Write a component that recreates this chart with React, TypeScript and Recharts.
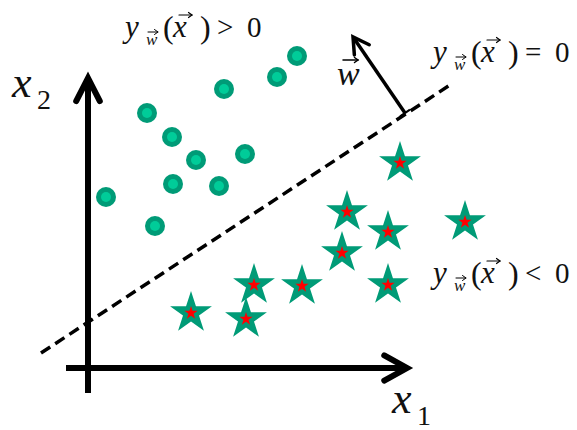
import { ScatterChart, Scatter, XAxis, YAxis, ReferenceLine, ReferenceDot } from "recharts";

// feature space: x1 to the right, x2 upward, origin where the two axes cross
const positivePoints = [
  { x1: 209, x2: 312 },
  { x1: 189, x2: 291 },
  { x1: 136, x2: 279 },
  { x1: 59, x2: 255 },
  { x1: 84, x2: 231 },
  { x1: 157, x2: 214 },
  { x1: 108, x2: 208 },
  { x1: 85, x2: 184 },
  { x1: 131, x2: 182 },
  { x1: 18, x2: 171 },
  { x1: 67, x2: 142 },
];

const negativePoints = [
  { x1: 312, x2: 205 },
  { x1: 259, x2: 156 },
  { x1: 377, x2: 146 },
  { x1: 300, x2: 136 },
  { x1: 254, x2: 115 },
  { x1: 166, x2: 83 },
  { x1: 214, x2: 82 },
  { x1: 300, x2: 83 },
  { x1: 103, x2: 55 },
  { x1: 158, x2: 49 },
];

// decision boundary y_w(x) = 0 and its normal vector w
const boundary = [
  { x: -47, y: 15 },
  { x: 362, y: 283 },
];
const normal = [
  { x: 317, y: 255 },
  { x: 265, y: 331 },
];

const axisX1 = [
  { x: -22, y: 0 },
  { x: 319, y: 0 },
];
const axisX2 = [
  { x: 0, y: -25 },
  { x: 0, y: 290 },
];

const W = 577;
const H = 430;
const GREEN = "#009B77";
const SERIF_FAMILY =
  "'Liberation Serif', 'Times New Roman', Times, 'DejaVu Serif', serif";

const serif = (size: number, italic = false) => ({
  fontFamily: SERIF_FAMILY,
  fontSize: size,
  fontStyle: italic ? "italic" : "normal",
});

function headPoints(x1: number, y1: number, x2: number, y2: number, len: number, deg: number) {
  const a = Math.atan2(y2 - y1, x2 - x1);
  const h = (deg * Math.PI) / 180;
  const l = [x2 - len * Math.cos(a - h), y2 - len * Math.sin(a - h)];
  const r = [x2 - len * Math.cos(a + h), y2 - len * Math.sin(a + h)];
  return `${l[0]},${l[1]} ${x2},${y2} ${r[0]},${r[1]}`;
}

function arrowShape(width: number, len: number, deg: number, baseTick = 0) {
  return (props: any) => {
    const { x1, y1, x2, y2 } = props;
    const a = Math.atan2(y2 - y1, x2 - x1);
    const ex = x2 - Math.cos(a) * width * 0.8;
    const ey = y2 - Math.sin(a) * width * 0.8;
    const px = -Math.sin(a) * baseTick;
    const py = Math.cos(a) * baseTick;
    return (
      <g>
        <line x1={x1} y1={y1} x2={ex} y2={ey} stroke="#000" strokeWidth={width} />
        <polyline
          points={headPoints(x1, y1, x2, y2, len, deg)}
          fill="none"
          stroke="#000"
          strokeWidth={width}
          strokeLinecap="round"
          strokeLinejoin="miter"
        />
        {baseTick > 0 && (
          <line x1={x1 - px} y1={y1 - py} x2={x1 + px} y2={y1 + py} stroke="#000" strokeWidth={2} />
        )}
      </g>
    );
  };
}

// small vector arrow placed over a letter
function VecArrow({ x, y, len, w = 1.2 }: { x: number; y: number; len: number; w?: number }) {
  return (
    <g stroke="#000" strokeWidth={w} fill="none" strokeLinecap="round">
      <line x1={x} y1={y} x2={x + len} y2={y} />
      <polyline points={`${x + len - 3.5},${y - 2.5} ${x + len},${y} ${x + len - 3.5},${y + 2.5}`} />
    </g>
  );
}

function decisionLabel(op: string) {
  return (props: any) => {
    const { cx, cy } = props;
    return (
      <g fill="#111">
        <text x={cx} y={cy} style={serif(31, true)}>y</text>
        <text x={cx + 21} y={cy + 8} style={serif(17, true)}>w</text>
        <VecArrow x={cx + 23} y={cy - 5} len={10} w={1} />
        <text x={cx + 38} y={cy + 1} style={serif(32)}>(</text>
        <text x={cx + 48} y={cy} style={serif(31, true)}>x</text>
        <VecArrow x={cx + 54} y={cy - 22} len={13} />
        <text x={cx + 75} y={cy + 1} style={serif(32)}>)</text>
        <text x={cx + 92} y={cy} style={serif(29)}>{op}</text>
        <text x={cx + 122} y={cy} style={serif(29)}>0</text>
      </g>
    );
  };
}

function axisLabel(sub: string) {
  return (props: any) => {
    const { cx, cy } = props;
    return (
      <g fill="#111">
        <text x={cx} y={cy} style={serif(44, true)}>x</text>
        <text x={cx + 25} y={cy + 12} style={serif(28)}>{sub}</text>
      </g>
    );
  };
}

const wLabel = (props: any) => {
  const { cx, cy } = props;
  return (
    <g fill="#111">
      <text x={cx} y={cy} style={serif(34, true)}>w</text>
      <VecArrow x={cx + 6} y={cy - 25} len={15} w={1.5} />
    </g>
  );
};

const CircleMark = (props: any) => {
  const { cx, cy } = props;
  return (
    <g>
      <circle cx={cx} cy={cy} r={10} fill={GREEN} />
      <circle cx={cx} cy={cy} r={5} fill="#00CC99" />
    </g>
  );
};

function starPath(cx: number, cy: number, R: number) {
  const pts: string[] = [];
  for (let i = 0; i < 10; i++) {
    const r = i % 2 === 0 ? R : R * 0.382;
    const a = ((-90 + 36 * i) * Math.PI) / 180;
    pts.push(`${cx + r * Math.cos(a)},${cy + r * Math.sin(a)}`);
  }
  return pts.join(" ");
}

const StarMark = (props: any) => {
  const { cx, cy } = props;
  return (
    <g>
      <polygon points={starPath(cx, cy, 22)} fill={GREEN} />
      <polygon points={starPath(cx, cy, 7)} fill="#FF0000" />
    </g>
  );
};

export default function App() {
  return (
    <div style={{ position: "absolute", left: 0, top: 0, width: W, height: H, background: "#fff" }}>
      <ScatterChart width={W} height={H} margin={{ top: 0, right: 0, bottom: 0, left: 0 }}>
        <XAxis type="number" dataKey="x1" domain={[-88, 489]} allowDataOverflow hide />
        <YAxis type="number" dataKey="x2" domain={[-62, 368]} allowDataOverflow hide />

        <ReferenceLine
          segment={boundary}
          stroke="#000"
          strokeWidth={3.5}
          strokeDasharray="11 6"
        />
        <ReferenceLine segment={axisX2} shape={arrowShape(6, 26, 27)} />
        <ReferenceLine segment={axisX1} shape={arrowShape(6, 26, 29)} />
        <ReferenceLine segment={normal} shape={arrowShape(3.5, 18, 30, 6)} />

        <Scatter data={positivePoints} shape={CircleMark} isAnimationActive={false} />
        <Scatter data={negativePoints} shape={StarMark} isAnimationActive={false} />

        <ReferenceDot x={37} y={331} r={0} shape={decisionLabel(">")} />
        <ReferenceDot x={345} y={306} r={0} shape={decisionLabel("=")} />
        <ReferenceDot x={345} y={85} r={0} shape={decisionLabel("<")} />
        <ReferenceDot x={-76} y={271} r={0} shape={axisLabel("2")} />
        <ReferenceDot x={304} y={-45} r={0} shape={axisLabel("1")} />
        <ReferenceDot x={249} y={283} r={0} shape={wLabel} />
      </ScatterChart>
    </div>
  );
}
